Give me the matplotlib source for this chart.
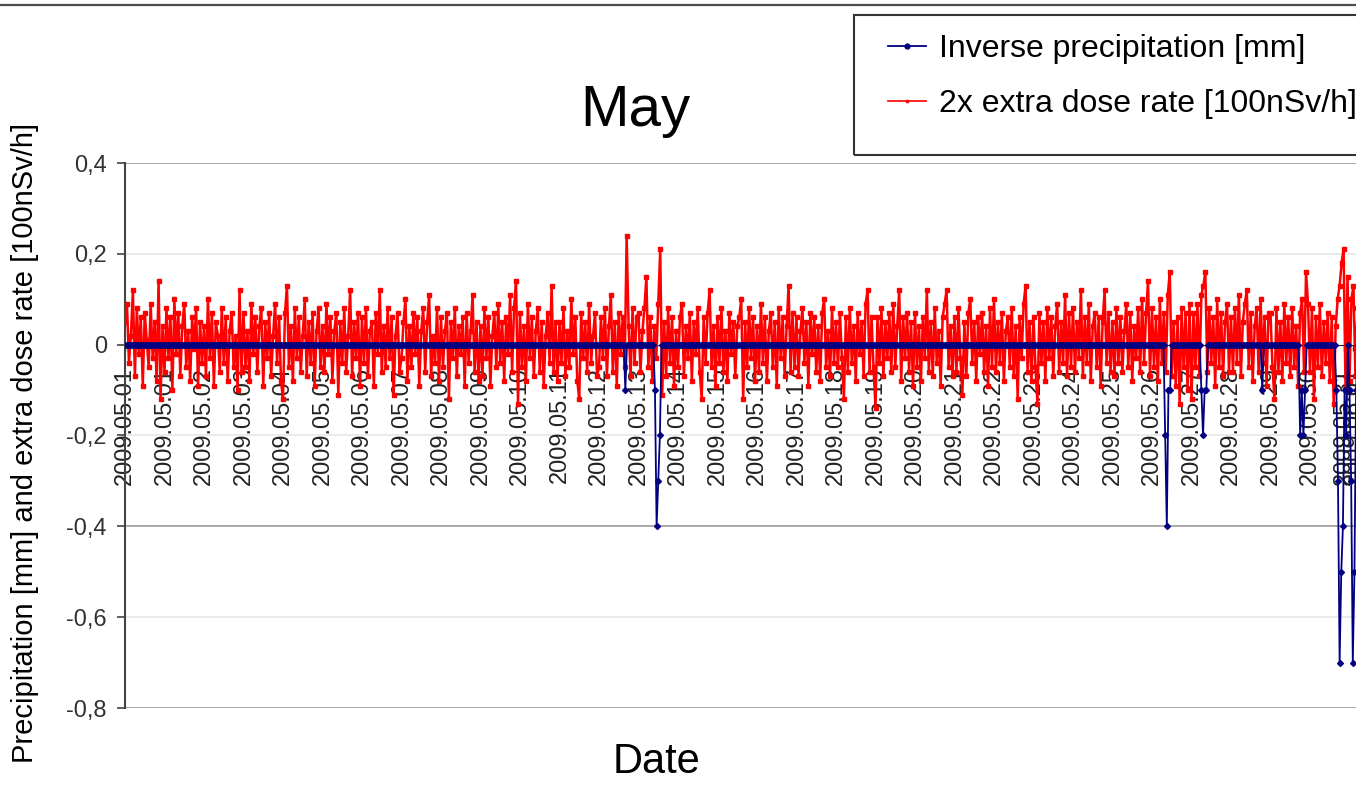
import numpy as np
import matplotlib.pyplot as plt
from matplotlib.lines import Line2D
from matplotlib.patches import Rectangle

plt.rcParams['font.family'] = ['Liberation Sans', 'DejaVu Sans']

# 2x extra dose rate [100nSv/h], 20 readings per day starting 2009.05.01
dose_per_day = 20
dose = [
    0.05, 0.09, -0.04, 0.02, 0.12, -0.07, 0.08, -0.02, 0.06, -0.09, 0.07, 0.01, -0.05, 0.09, -0.03, 0.05, -0.08, 0.14, -0.12, 0.04,
    -0.06, 0.08, -0.03, 0.06, -0.10, 0.10, -0.02, 0.07, -0.07, 0.04, 0.09, -0.05, 0.03, -0.08, 0.06, -0.01, 0.08, -0.09, 0.05, -0.04,
    0.04, -0.07, 0.10, -0.03, 0.07, -0.09, 0.05, 0.02, -0.06, 0.08, -0.04, 0.06, -0.08, 0.03, 0.07, -0.05, 0.02, -0.10, 0.12, -0.06,
    0.07, -0.05, 0.03, -0.08, 0.09, -0.02, 0.06, -0.06, 0.04, 0.08, -0.09, 0.05, -0.03, 0.07, -0.07, 0.02, 0.09, -0.04, 0.06, -0.08,
    -0.12, 0.07, 0.13, -0.05, 0.04, -0.08, 0.08, -0.03, 0.06, -0.06, 0.02, 0.10, -0.07, 0.05, -0.04, 0.07, -0.09, 0.03, 0.08, -0.05,
    0.04, -0.06, 0.09, -0.02, 0.06, -0.08, 0.03, 0.07, -0.11, 0.05, -0.04, 0.08, -0.06, 0.02, 0.12, -0.07, 0.05, -0.03, 0.07, -0.09,
    0.06, -0.04, 0.08, -0.07, 0.03, 0.05, -0.09, 0.07, -0.02, 0.12, -0.06, 0.04, -0.05, 0.08, -0.03, 0.06, -0.11, 0.02, 0.07, -0.06,
    -0.03, 0.05, 0.10, -0.08, 0.04, -0.05, 0.07, -0.02, 0.06, -0.09, 0.03, 0.08, -0.06, 0.05, 0.11, -0.07, 0.02, -0.04, 0.08, -0.08,
    0.06, -0.05, 0.03, 0.07, -0.12, 0.05, -0.03, 0.08, -0.07, 0.04, -0.02, 0.06, -0.09, 0.07, -0.04, 0.03, 0.11, -0.06, 0.05, -0.08,
    0.04, -0.07, 0.08, -0.03, 0.06, -0.09, 0.02, 0.07, -0.05, 0.09, -0.04, 0.05, -0.08, 0.06, -0.02, 0.11, -0.06, 0.08, 0.14, -0.13,
    0.07, -0.05, 0.04, -0.08, 0.09, -0.03, 0.06, -0.07, 0.03, 0.08, -0.06, 0.05, -0.09, 0.02, 0.07, -0.04, 0.13, -0.06, 0.05, -0.08,
    0.05, -0.04, 0.08, -0.07, 0.03, -0.05, 0.10, -0.02, 0.06, -0.08, -0.12, 0.07, -0.03, 0.05, -0.06, 0.09, -0.04, 0.02, 0.07, -0.07,
    -0.05, 0.06, -0.03, 0.08, -0.07, 0.04, 0.11, -0.06, 0.05, -0.09, 0.07, -0.02, 0.06, -0.05, 0.24, 0.04, -0.07, 0.08, -0.04, 0.06,
    0.07, -0.06, 0.03, 0.08, 0.15, -0.05, 0.06, -0.08, 0.04, -0.03, 0.09, 0.21, -0.11, 0.05, -0.07, 0.08, -0.04, 0.06, -0.09, 0.03,
    -0.05, 0.06, 0.09, -0.07, 0.04, -0.03, 0.07, -0.08, 0.05, -0.02, 0.08, -0.06, -0.12, 0.06, -0.04, 0.07, 0.12, -0.05, 0.04, -0.09,
    0.06, -0.04, 0.08, -0.06, 0.03, -0.08, 0.07, -0.02, 0.05, -0.07, 0.04, 0.06, 0.10, -0.12, 0.05, -0.05, 0.08, -0.03, 0.06, -0.08,
    0.04, -0.06, 0.09, -0.04, 0.06, -0.08, 0.03, 0.07, -0.05, 0.05, -0.09, 0.08, -0.03, 0.06, -0.07, 0.04, 0.13, -0.06, 0.07, -0.05,
    0.06, -0.07, 0.03, 0.08, -0.04, 0.05, -0.09, 0.07, -0.02, 0.06, -0.06, 0.04, -0.08, 0.07, 0.10, -0.05, 0.03, -0.07, 0.08, -0.04,
    0.05, -0.05, 0.07, -0.03, -0.12, 0.06, -0.06, 0.08, -0.04, 0.04, -0.08, 0.07, -0.02, 0.05, -0.07, 0.09, 0.12, -0.06, 0.06, -0.05,
    -0.14, 0.06, -0.04, 0.08, -0.07, 0.05, -0.03, 0.07, -0.06, 0.09, -0.05, 0.04, 0.12, -0.08, 0.06, -0.03, 0.07, -0.06, 0.05, -0.09,
    0.07, -0.05, 0.04, -0.08, 0.06, -0.03, 0.12, -0.06, 0.05, -0.07, 0.08, -0.04, 0.03, -0.09, 0.06, 0.09, 0.12, -0.05, 0.04, -0.07,
    0.06, -0.06, 0.08, -0.03, -0.11, 0.05, -0.07, 0.07, 0.10, -0.04, 0.05, -0.08, 0.06, -0.02, 0.07, -0.06, 0.04, -0.09, 0.08, -0.05,
    0.10, -0.06, 0.05, -0.04, 0.07, -0.08, 0.03, 0.06, -0.05, 0.08, -0.07, 0.04, -0.12, 0.06, -0.03, 0.09, 0.13, -0.06, 0.05, -0.08,
    0.06, -0.05, -0.13, 0.07, -0.04, 0.05, -0.08, 0.08, -0.03, 0.06, -0.07, 0.04, 0.09, -0.06, 0.05, -0.04, 0.11, -0.07, 0.07, -0.05,
    0.08, -0.06, 0.05, -0.03, 0.12, -0.07, 0.06, -0.04, 0.09, -0.08, 0.04, 0.07, -0.05, 0.06, -0.09, 0.05, 0.12, -0.04, 0.07, -0.06,
    0.05, -0.07, 0.08, -0.04, 0.06, -0.06, 0.03, 0.09, -0.05, 0.07, -0.08, 0.04, -0.03, 0.08, -0.06, 0.10, -0.04, 0.07, 0.14, -0.07,
    0.08, -0.05, 0.06, -0.08, 0.10, -0.04, 0.07, -0.06, 0.11, 0.16, -0.07, 0.05, -0.09, 0.06, -0.13, 0.08, -0.05, 0.07, -0.10, 0.09,
    -0.12, 0.07, -0.05, 0.09, -0.07, 0.11, 0.13, 0.16, -0.06, 0.08, -0.04, 0.06, -0.09, 0.10, -0.05, 0.07, -0.07, 0.05, 0.09, -0.06,
    0.06, -0.06, 0.08, -0.04, 0.11, -0.07, 0.05, 0.09, 0.12, -0.05, 0.07, -0.08, 0.04, 0.08, -0.06, 0.10, -0.04, 0.06, -0.09, 0.07,
    0.07, -0.05, -0.12, 0.08, -0.06, 0.05, -0.08, 0.09, -0.04, 0.06, -0.07, 0.08, -0.05, 0.04, -0.09, 0.07, 0.10, -0.06, 0.16, 0.09,
    -0.06, 0.08, -0.12, 0.06, -0.05, 0.09, -0.07, 0.05, -0.04, 0.07, -0.08, 0.06, -0.13, 0.04, 0.10, 0.13, 0.18, 0.21, -0.10, 0.15,
    -0.08, 0.10, 0.13, -0.07, 0.08, -0.05,
]

# hourly precipitation [mm]; every hour not listed here was dry
hours_total = 752
rain_hour = [304, 322, 323, 324, 325,
             632, 633, 634, 635, 654, 655, 656, 657, 691,
             714, 715, 716, 717,
             736, 737, 738, 739, 740, 741, 742,
             744, 745, 746, 747, 748]
rain_mm = [0.1, 0.1, 0.4, 0.3, 0.2,
           0.2, 0.4, 0.1, 0.1, 0.1, 0.2, 0.1, 0.1, 0.1,
           0.2, 0.1, 0.2, 0.1,
           0.1, 0.3, 0.7, 0.5, 0.4, 0.1, 0.2,
           0.1, 0.3, 0.7, 0.5, 0.1]

date_labels = ['2009.05.01'] + ['2009.05.%02d' % d for d in range(1, 32)] + ['2009.06.01']
date_ticks = list(range(0, 31)) + [30.85, 31.1]

y_major = [0.4, -0.4, -0.8]
y_minor = [0.2, -0.2, -0.6]

precip = np.zeros(hours_total)
precip[rain_hour] = rain_mm
x_rain = np.arange(hours_total) / 24.0
x_dose = np.arange(len(dose)) / dose_per_day

W, H = 1356, 805
fig = plt.figure(figsize=(W / 100, H / 100), dpi=100)

# plot area runs off the right side of the canvas
left, right, top, bottom = 125, 1372, 163, 708
ax = fig.add_axes([left / W, 1 - bottom / H, (right - left) / W, (bottom - top) / H])

for v in y_major:
    ax.axhline(v, color='#9a9a9a', lw=1.2, zorder=1)
for v in y_minor:
    ax.axhline(v, color='#e6e6e6', lw=1.2, zorder=1)

ax.plot(x_dose, dose, color='#ff0000', lw=1.8, marker='s', ms=2.4, zorder=3)
ax.plot(x_rain, -precip, color='#000080', lw=1.3, marker='D', ms=3.0, zorder=4)

ax.set_xlim(0, (right - left) / 39.5)
ax.set_ylim(-0.8, 0.4)

ax.set_yticks([0.4, 0.2, 0, -0.2, -0.4, -0.6, -0.8])
ax.set_yticklabels(['0' if v == 0 else ('%.1f' % v).replace('.', ',')
                    for v in [0.4, 0.2, 0, -0.2, -0.4, -0.6, -0.8]])
ax.set_xticks(date_ticks)
ax.set_xticklabels(date_labels)

ax.spines['top'].set_visible(False)
ax.spines['right'].set_visible(False)
ax.spines['bottom'].set_position(('data', 0))
ax.spines['bottom'].set_color('#222222')
ax.spines['bottom'].set_zorder(2)
ax.spines['left'].set_color('#444444')
ax.spines['left'].set_linewidth(1.5)

ax.tick_params(axis='x', direction='out', length=4.5, width=1, pad=11.5,
               labelsize=17, labelcolor='#222222', color='#222222', labelrotation=90)
ax.tick_params(axis='y', direction='out', length=6, width=1.2, pad=7,
               labelsize=17, labelcolor='#333333', color='#444444')

fig.text(635 / W, 1 - 126 / H, 'May', ha='center', va='baseline', fontsize=42)
fig.text(656 / W, 1 - 773 / H, 'Date', ha='center', va='baseline', fontsize=30)
fig.text(25 / W, 1 - 443 / H, 'Precipitation [mm] and extra dose rate [100nSv/h]',
         rotation=90, ha='center', va='center', fontsize=21)

# rule along the top edge and the legend frame
fig.add_artist(Line2D([0, 1], [1 - 5.5 / H, 1 - 5.5 / H], transform=fig.transFigure,
                      color='#4d4d4d', lw=1.6))
fig.add_artist(Rectangle((854 / W, 1 - 155 / H), 600 / W, 140 / H, transform=fig.transFigure,
                         fill=False, edgecolor='#333333', lw=1.5))

legend_handles = [
    Line2D([], [], color='#000080', lw=1.3, marker='o', ms=3.5),
    Line2D([], [], color='#ff0000', lw=1.2, marker='s', ms=1.8),
]
legend_labels = ['Inverse precipitation [mm]', '2x extra dose rate [100nSv/h]']
fig.legend(legend_handles, legend_labels,
           loc='upper left', bbox_to_anchor=(888 / W, 1 - 34 / H), borderaxespad=0,
           borderpad=0, frameon=False, fontsize=23, handlelength=1.2,
           handletextpad=0.4, labelspacing=0.78)

fig.savefig('out.png', dpi=100)
